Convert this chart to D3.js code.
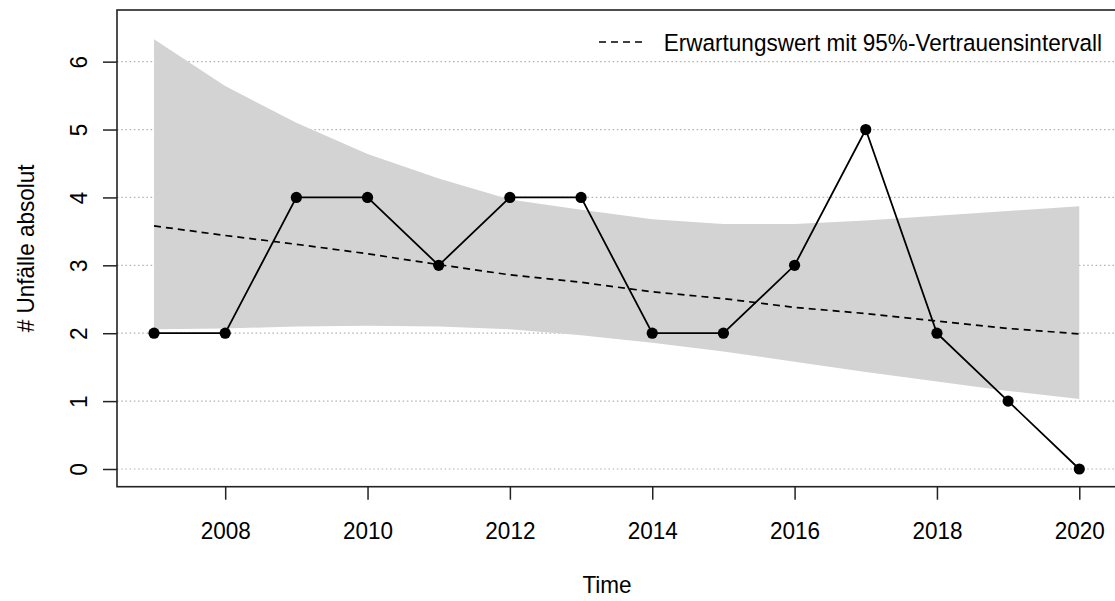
<!DOCTYPE html>
<html>
<head>
<meta charset="utf-8">
<script src="https://cdn.jsdelivr.net/npm/d3@7/dist/d3.min.js"></script>
<style>
  html, body { margin: 0; padding: 0; background: #fff; }
  svg { display: block; }
  text { font-family: "Liberation Sans", Arial, Helvetica, sans-serif; fill: #000; }
</style>
</head>
<body>
<svg id="chart" width="1115" height="601"></svg>
<script>
// Accident counts per year with fitted expectation and 95% interval
const years    = [2007, 2008, 2009, 2010, 2011, 2012, 2013, 2014, 2015, 2016, 2017, 2018, 2019, 2020];
const observed = [2, 2, 4, 4, 3, 4, 4, 2, 2, 3, 5, 2, 1, 0];
const expected = [3.58, 3.44, 3.31, 3.17, 3.01, 2.86, 2.75, 2.61, 2.51, 2.38, 2.29, 2.18, 2.07, 1.99];
const upper    = [6.33, 5.64, 5.10, 4.64, 4.28, 3.97, 3.82, 3.68, 3.61, 3.61, 3.66, 3.73, 3.80, 3.87];
const lower    = [2.06, 2.07, 2.10, 2.11, 2.10, 2.06, 1.97, 1.86, 1.73, 1.58, 1.43, 1.29, 1.15, 1.03];
const xTicks   = [2008, 2010, 2012, 2014, 2016, 2018, 2020];
const yTicks   = [0, 1, 2, 3, 4, 5, 6];
const legendLabel = "Erwartungswert mit 95%-Vertrauensintervall";

const FONT_SIZE = 24.5;
const NARROW = "scale(0.92,1)";   // slightly condensed glyphs

const svg = d3.select("#chart");
const box = { left: 117, top: 10, right: 1116.3, bottom: 486.7 };

// Base-graphics style 4% padding around the data range
const xPad = (years[years.length - 1] - years[0]) * 0.04;
const x = d3.scaleLinear()
  .domain([years[0] - xPad, years[years.length - 1] + xPad])
  .range([box.left, box.right]);
const y = d3.scaleLinear()
  .domain([-0.2607, 6.7607])
  .range([box.bottom, box.top]);

svg.append("defs").append("clipPath").attr("id", "plotClip")
  .append("rect")
  .attr("x", box.left).attr("y", box.top)
  .attr("width", box.right - box.left).attr("height", box.bottom - box.top);

const plot = svg.append("g").attr("clip-path", "url(#plotClip)");

// Horizontal dotted reference lines
plot.selectAll("line.grid")
  .data(yTicks)
  .join("line")
  .attr("class", "grid")
  .attr("x1", box.left).attr("x2", box.right)
  .attr("y1", d => y(d)).attr("y2", d => y(d))
  .attr("stroke", "#b4b4b4")
  .attr("stroke-width", 1.2)
  .attr("stroke-dasharray", "1.6,2.6");

const rows = years.map((yr, i) => ({
  year: yr, obs: observed[i], exp: expected[i], hi: upper[i], lo: lower[i]
}));

// Confidence band
plot.append("path")
  .datum(rows)
  .attr("fill", "#d3d3d3")
  .attr("d", d3.area()
    .x(d => x(d.year))
    .y0(d => y(d.lo))
    .y1(d => y(d.hi)));

// Expected value (dashed)
plot.append("path")
  .datum(rows)
  .attr("fill", "none")
  .attr("stroke", "#000")
  .attr("stroke-width", 1.7)
  .attr("stroke-dasharray", "7,5")
  .attr("d", d3.line().x(d => x(d.year)).y(d => y(d.exp)));

// Observed counts
plot.append("path")
  .datum(rows)
  .attr("fill", "none")
  .attr("stroke", "#000")
  .attr("stroke-width", 1.8)
  .attr("d", d3.line().x(d => x(d.year)).y(d => y(d.obs)));

plot.selectAll("circle.obs")
  .data(rows)
  .join("circle")
  .attr("class", "obs")
  .attr("cx", d => x(d.year))
  .attr("cy", d => y(d.obs))
  .attr("r", 5.6)
  .attr("fill", "#000");

// Frame
svg.append("rect")
  .attr("x", box.left).attr("y", box.top)
  .attr("width", box.right - box.left).attr("height", box.bottom - box.top)
  .attr("fill", "none")
  .attr("stroke", "#222")
  .attr("stroke-width", 1.6);

// X axis
const xAxis = svg.append("g")
  .attr("transform", `translate(0,${box.bottom})`)
  .call(d3.axisBottom(x).tickValues(xTicks).tickFormat(d3.format("d")).tickSize(13).tickPadding(22));
xAxis.select(".domain").remove();
xAxis.selectAll(".tick line").attr("stroke", "#222").attr("stroke-width", 1.5);
xAxis.selectAll(".tick text")
  .attr("font-size", FONT_SIZE)
  .attr("font-family", "Liberation Sans, Arial, sans-serif")
  .attr("fill", "#000")
  .attr("transform", NARROW);

// Y axis with rotated labels
const yAxis = svg.append("g")
  .attr("transform", `translate(${box.left},0)`)
  .call(d3.axisLeft(y).tickValues(yTicks).tickFormat(d3.format("d")).tickSize(14));
yAxis.select(".domain").remove();
yAxis.selectAll(".tick line").attr("stroke", "#222").attr("stroke-width", 1.5);
yAxis.selectAll(".tick text")
  .attr("font-size", FONT_SIZE)
  .attr("font-family", "Liberation Sans, Arial, sans-serif")
  .attr("fill", "#000")
  .attr("x", null).attr("dy", null)
  .attr("text-anchor", "middle")
  .attr("transform", `translate(-30,0) rotate(-90) ${NARROW}`);

// Axis titles
svg.append("text")
  .attr("transform", `translate(607,593) ${NARROW}`)
  .attr("text-anchor", "middle")
  .attr("font-size", FONT_SIZE)
  .text("Time");

svg.append("text")
  .attr("transform", `translate(34,${(box.top + box.bottom) / 2}) rotate(-90) ${NARROW}`)
  .attr("text-anchor", "middle")
  .attr("font-size", FONT_SIZE)
  .text("# Unfälle absolut");

// Legend
const legend = svg.append("g");
legend.append("line")
  .attr("x1", 599).attr("x2", 642)
  .attr("y1", 42).attr("y2", 42)
  .attr("stroke", "#000")
  .attr("stroke-width", 1.7)
  .attr("stroke-dasharray", "7,5");
legend.append("text")
  .attr("transform", `translate(1102,50.5) ${NARROW}`)
  .attr("text-anchor", "end")
  .attr("font-size", FONT_SIZE)
  .text(legendLabel);
</script>
</body>
</html>
